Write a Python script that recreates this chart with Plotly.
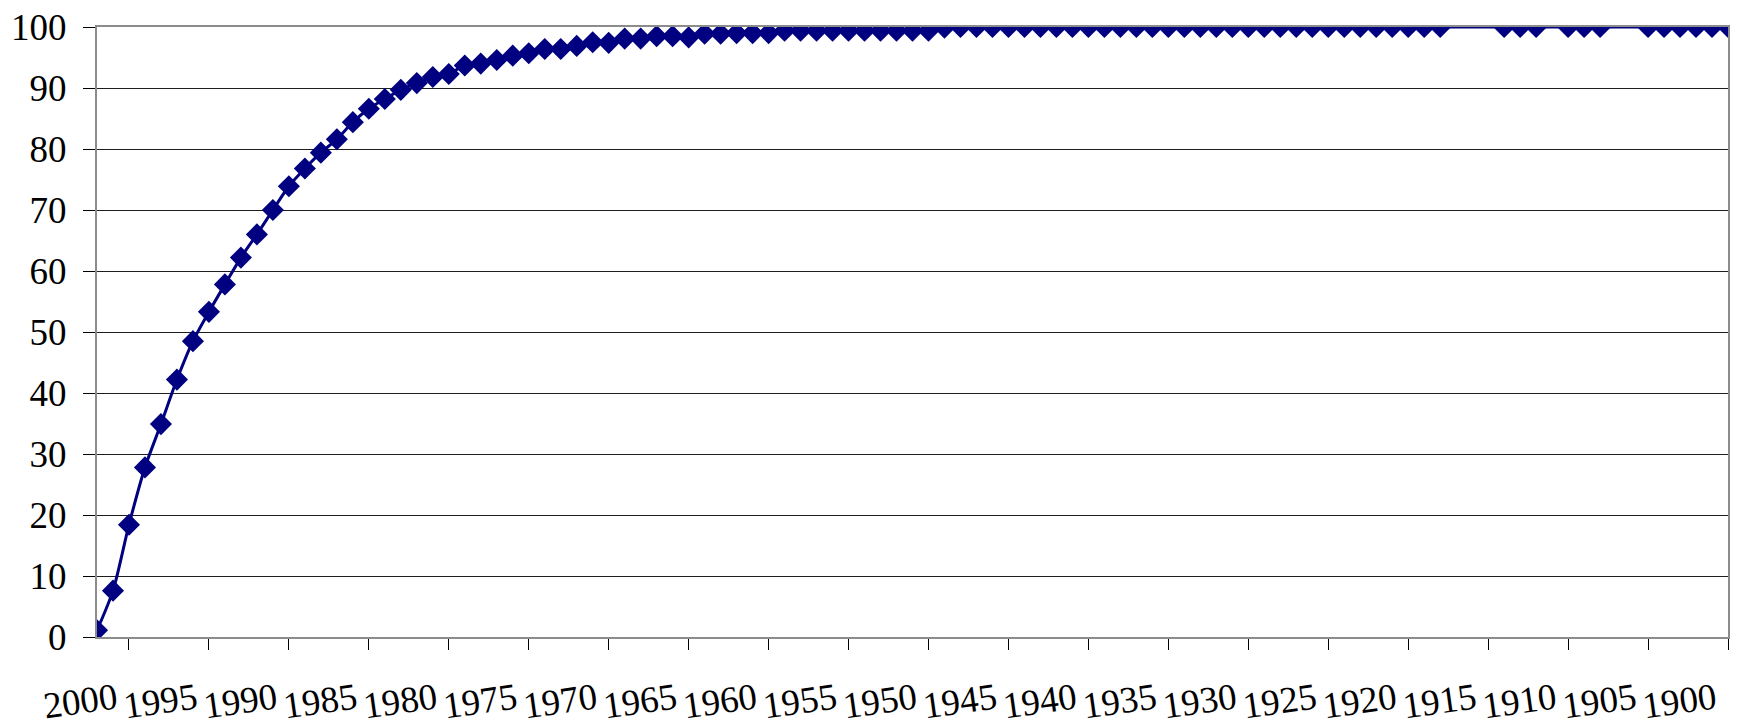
"""Cumulative share (%) by year, counted back from 2000 to 1898.

Excel-style line chart: smoothed navy line with diamond markers, years
running right-to-left, a few early years with no value (line bridges them).
"""
from __future__ import annotations

import plotly.graph_objects as go

# --- data -----------------------------------------------------------------
YEARS = list(range(2000, 1897, -1))

# one value per year in YEARS; None = no reading that year
VALUES = [
    1.1, 7.6, 18.4, 27.8, 34.9, 42.2, 48.5, 53.3, 57.8, 62.2,        # 2000-1991
    66.0, 70.0, 73.9, 76.8, 79.4, 81.6, 84.4, 86.6, 88.2, 89.7,      # 1990-1981
    90.8, 91.8, 92.3, 93.7, 94.0, 94.6, 95.3, 95.7, 96.4, 96.4,      # 1980-1971
    96.9, 97.5, 97.4, 98.1, 98.1, 98.5, 98.5, 98.3, 98.9, 98.9,      # 1970-1961
    99.0, 99.0, 99.0, 99.4, 99.4, 99.4, 99.4, 99.4, 99.4, 99.4,      # 1960-1951
    99.4, 99.4, 99.4, 99.9, 100, 100, 100, 100, 100, 100,            # 1950-1941
    100, 100, 100, 100, 100, 100, 100, 100, 100, 100,                # 1940-1931
    100, 100, 100, 100, 100, 100, 100, 100, 100, 100,                # 1930-1921
    100, 100, 100, 100, 100, None, None, None, 100, 100,             # 1920-1911
    100, None, 100, 100, 100, None, None, 100, 100, 100,             # 1910-1901
    100, 100, 100,                                                   # 1900-1898
]

LABEL_YEARS = list(range(2000, 1899, -5))
TICK_YEARS = list(range(1998, 1897, -5))
Y_TICKS = list(range(0, 101, 10))

# --- style ----------------------------------------------------------------
NAVY = "#000080"
GRID = "#1e1e1e"
FRAME = "#8c8c8c"
FONT = "Liberation Serif, Times New Roman, serif"
WIDTH, HEIGHT = 1740, 727
LABEL_SHIFT = -1.2   # Excel draws the rotated labels a little left of the year


def build_chart() -> go.Figure:
    fig = go.Figure()
    fig.add_trace(go.Scatter(
        x=YEARS, y=VALUES,
        mode="lines+markers",
        connectgaps=True,
        line=dict(color=NAVY, width=3, shape="spline", smoothing=0.8),
        marker=dict(symbol="diamond", size=17, color=NAVY),
        showlegend=False,
        hovertemplate="%{x}: %{y:.1f}<extra></extra>",
    ))

    fig.update_layout(
        width=WIDTH, height=HEIGHT,
        margin=dict(l=97, r=12, t=27, b=90),
        paper_bgcolor="white", plot_bgcolor="white",
        font=dict(family=FONT, size=37, color="black"),
    )
    fig.update_xaxes(
        range=[YEARS[0], YEARS[-1]],
        automargin=False,
        tickmode="array",
        tickvals=[y + LABEL_SHIFT for y in LABEL_YEARS],
        ticktext=[str(y) for y in LABEL_YEARS],
        tickangle=-8,
        ticks="",
        ticklabelstandoff=25,
        minor=dict(
            tickmode="array", tickvals=TICK_YEARS,
            ticks="outside", ticklen=11, tickwidth=1, tickcolor="black",
            showgrid=False,
        ),
        showgrid=False, zeroline=False,
        showline=True, mirror=True, linecolor=FRAME, linewidth=2,
    )
    fig.update_yaxes(
        range=[0, 100],
        automargin=False,
        tickmode="array", tickvals=Y_TICKS,
        ticks="outside", ticklen=12, tickwidth=1, tickcolor="black",
        ticklabelstandoff=9,
        showgrid=True, gridcolor=GRID, gridwidth=1, zeroline=False,
        showline=True, mirror=True, linecolor=FRAME, linewidth=2,
    )
    return fig


fig = build_chart()
# drop the browser's default 8px body margin so the chart sits at 0,0
fig.write_html(
    "out.html",
    config={"displayModeBar": False},
    post_script="document.body.style.margin = '0';",
)
